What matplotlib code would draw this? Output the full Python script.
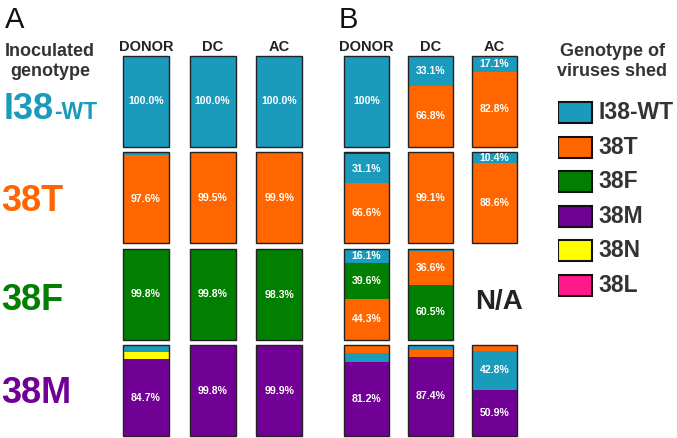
import matplotlib
matplotlib.use("Agg")
import matplotlib.pyplot as plt

plt.rcParams['font.family'] = ['Liberation Sans', 'DejaVu Sans']

# genotypes and their colours
genotypes = ["I38-WT", "38T", "38F", "38M", "38N", "38L"]
geno_colors = ["#1a9bbb", "#ff6600", "#007f00", "#710094", "#ffff00", "#ff1a8c"]
color_of = dict(zip(genotypes, geno_colors))

columns = ["DONOR", "DC", "AC"]
row_labels = ["I38-WT", "38T", "38F", "38M"]
row_colors = ["#1a9bbb", "#ff6600", "#007f00", "#710094"]

# composition of shed virus per (inoculated row, column), listed bottom -> top
panel_a = [
    [[("I38-WT", 100.0)], [("I38-WT", 100.0)], [("I38-WT", 100.0)]],
    [[("38T", 97.6), ("I38-WT", 2.4)], [("38T", 99.5), ("I38-WT", 0.5)],
     [("38T", 99.9), ("I38-WT", 0.1)]],
    [[("38F", 99.8), ("38T", 0.2)], [("38F", 99.8), ("38T", 0.2)],
     [("38F", 98.3), ("38T", 1.7)]],
    [[("38M", 84.7), ("38N", 8.0), ("I38-WT", 7.3)], [("38M", 99.8), ("I38-WT", 0.2)],
     [("38M", 99.9), ("I38-WT", 0.1)]],
]
panel_b = [
    [[("I38-WT", 100.0)], [("38T", 66.8), ("I38-WT", 33.1)],
     [("38T", 82.8), ("I38-WT", 17.1)]],
    [[("38T", 66.6), ("I38-WT", 31.1), ("38M", 2.3)], [("38T", 99.1), ("I38-WT", 0.9)],
     [("38T", 88.6), ("I38-WT", 10.4), ("38M", 1.0)]],
    [[("38T", 44.3), ("38F", 39.6), ("I38-WT", 16.1)],
     [("38F", 60.5), ("38T", 36.6), ("I38-WT", 2.9)], None],
    [[("38M", 81.2), ("I38-WT", 9.9), ("38T", 8.9)],
     [("38M", 87.4), ("38T", 7.4), ("I38-WT", 5.2)],
     [("38M", 50.9), ("I38-WT", 42.8), ("38T", 6.3)]],
]
label_overrides = {("B", 0, 0): "100%"}

W, H = 677, 438
fig = plt.figure(figsize=(W / 100, H / 100), dpi=100)
DARK = "#333333"
BAR_H = 0.94


def fx(x):
    return x / W


def fy(y):
    return 1 - y / H


def draw_panel(ax, data, panel, bar_w):
    ax.set_xlim(-0.5, 2.5)
    ax.set_ylim(-0.02, 3.96)
    ax.axis("off")
    for c, name in enumerate(columns):
        ax.text(c, 4.03, name, ha="center", va="center", fontsize=10.5,
                fontweight="bold", color="#222222", clip_on=False)
    for r, row in enumerate(data):
        base = len(data) - 1 - r
        for c, cell in enumerate(row):
            if cell is None:
                continue
            bottom = base
            for geno, val in cell:
                h = val / 100 * BAR_H
                ax.bar(c, h, bottom=bottom, width=bar_w, color=color_of[geno],
                       linewidth=0)
                if val >= 10:
                    txt = label_overrides.get((panel, r, c), f"{val:.1f}%")
                    ax.text(c, bottom + h / 2, txt, ha="center", va="center",
                            color="white", fontsize=7.6, fontweight="bold")
                bottom += h
            ax.bar(c, BAR_H, bottom=base, width=bar_w, fill=False,
                   edgecolor="#222222", linewidth=1)


ax_a = fig.add_axes([fx(112.6), fy(437.9), 200 / W, 383.9 / H])
draw_panel(ax_a, panel_a, "A", 0.69)
ax_b = fig.add_axes([fx(334.5), fy(437.9), 192 / W, 383.9 / H])
draw_panel(ax_b, panel_b, "B", 0.70)
ax_b.text(2.07, 1.32, "N/A", ha="center", va="baseline", fontsize=20,
          fontweight="bold", color="#222222")

# panel letters
fig.text(fx(5), fy(28), "A", fontsize=21, va="baseline", color="#111111")
fig.text(fx(339), fy(28), "B", fontsize=21, va="baseline", color="#111111")

# row labels
fig.text(fx(50), fy(52), "Inoculated", ha="center", va="center", fontsize=13,
         fontweight="bold", color=DARK)
fig.text(fx(50), fy(72), "genotype", ha="center", va="center", fontsize=13,
         fontweight="bold", color=DARK)
fig.text(fx(4), fy(119), "I38", fontsize=26, fontweight="bold", va="baseline",
         color=row_colors[0])
fig.text(fx(54), fy(119), "-WT", fontsize=16.5, fontweight="bold", va="baseline",
         color=row_colors[0])
for lab, col, base in zip(row_labels[1:], row_colors[1:], [211, 310, 403]):
    fig.text(fx(1), fy(base), lab, fontsize=26, fontweight="bold",
             va="baseline", color=col)

# legend
fig.text(fx(612), fy(52), "Genotype of", ha="center", va="center", fontsize=13,
         fontweight="bold", color=DARK)
fig.text(fx(612), fy(72), "viruses shed", ha="center", va="center", fontsize=13,
         fontweight="bold", color=DARK)
ax_l = fig.add_axes([fx(558), fy(302.8), 119 / W, 207.6 / H])
ax_l.set_xlim(0, 119 / 34)
ax_l.set_ylim(len(genotypes) - 0.5, -0.5)
ax_l.axis("off")
ax_l.barh(range(len(genotypes)), 1, height=0.61, left=0, color=geno_colors,
          edgecolor="#111111", linewidth=1.5)
for i, g in enumerate(genotypes):
    ax_l.text(1.2, i, g, ha="left", va="center", fontsize=16.5,
              fontweight="bold", color=DARK)

fig.savefig("out.png", dpi=100)
